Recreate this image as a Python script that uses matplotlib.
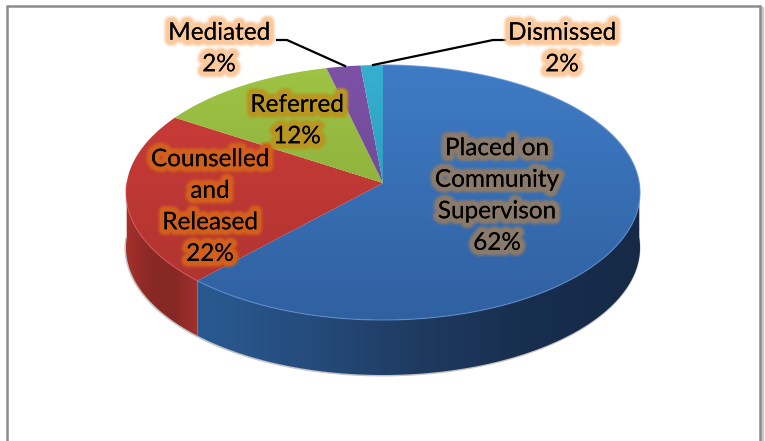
import numpy as np
import matplotlib
matplotlib.use('Agg')
import matplotlib.pyplot as plt
import matplotlib.patheffects as pe
from matplotlib.patches import Polygon, Rectangle
from matplotlib.colors import LinearSegmentedColormap

# Slice data, clockwise from 12 o'clock
categories = ['Placed on\nCommunity\nSupervison', 'Counselled\nand\nReleased', 'Referred', 'Mediated', 'Dismissed']
values = [62, 22, 12.2, 2.3, 1.5]
pct_labels = ['62%', '22%', '12%', '2%', '2%']

top_light = ['#3f7cc6', '#cf3d39', '#9fc544', '#7d52a8', '#35b0d2']
top_dark = ['#2f5f9f', '#ab322f', '#7f9e38', '#624185', '#2a8ba8']
glows = ['#8a7a6c', '#d2601c', '#b8961f', '#fcc99c', '#fcc99c']

# Ellipse layout in pixels
cx, cy = 383, 183
rx, ry = 256.3, 126.8
k = -0.0745
depth = 55


def project(theta):
    # tilted circle -> screen, apex sits above the middle of the ellipse
    x = np.sin(theta)
    y = -np.cos(theta)
    w = 1 + k * y
    return cx + rx * x / w, cy + ry * y / w


def clipped_gradient(ax, poly, colors, extent, horizontal=False):
    cmap = LinearSegmentedColormap.from_list('g', colors)
    grad = np.linspace(0, 1, 256)
    grad = grad.reshape(1, -1) if horizontal else grad.reshape(-1, 1)
    im = ax.imshow(grad, cmap=cmap, extent=extent, aspect='auto', zorder=3, interpolation='bilinear')
    patch = Polygon(poly, closed=True, transform=ax.transData, facecolor='none', edgecolor='none')
    ax.add_patch(patch)
    im.set_clip_path(patch)


fig = plt.figure(figsize=(7.65, 4.41), dpi=100)
ax = fig.add_axes([0, 0, 1, 1])
ax.set_xlim(0, 765)
ax.set_ylim(441, 0)
ax.axis('off')

# Chart frame, its bottom edge is cut off by the picture
ax.add_patch(Rectangle((9.5, 7.5), 752.5, 500, facecolor='none', edgecolor='#c8c8c8', linewidth=2.4, zorder=1))
ax.add_patch(Rectangle((7.5, 5.5), 752.5, 500, facecolor='white', edgecolor='#8c8c8c', linewidth=1.8, zorder=1))

fractions = np.cumsum([0] + values) / sum(values)
angles = fractions * 2 * np.pi

# Soft shadow under the rim
t = np.linspace(np.pi / 2, 3 * np.pi / 2, 200)
sx, sy = project(t)
ax.plot(sx - 0.5, sy + depth + 0.5, color='#c4c4c4', lw=1.4, zorder=2)

# Rim of the pie: only the front half shows
side_stops = {0: ['#162a47', '#182e4e', '#1f3a60', '#254c7c', '#2a5a92'],
              1: ['#a6302c', '#8a2926', '#862825', '#a0302c']}
for i in side_stops:
    a0 = max(angles[i], np.pi / 2)
    a1 = min(angles[i + 1], 3 * np.pi / 2)
    t = np.linspace(a0, a1, 150)
    xs, ys = project(t)
    poly = np.vstack([np.c_[xs, ys], np.c_[xs[::-1], ys[::-1] + depth]])
    if i == 0:
        clipped_gradient(ax, poly, side_stops[i], [xs.max(), xs.min(), 441, 0], horizontal=True)
    else:
        clipped_gradient(ax, poly, side_stops[i], [xs.min(), xs.max(), 441, 0], horizontal=True)

# Top face
for i in range(len(values)):
    t = np.linspace(angles[i], angles[i + 1], 200)
    xs, ys = project(t)
    poly = np.vstack([[cx, cy], np.c_[xs, ys]])
    clipped_gradient(ax, poly, [top_light[i], top_dark[i]], [100, 660, 330, 60])

# Light edge where top meets rim, front left only
t = np.linspace(angles[0] * 0.72, angles[1], 200)
xs, ys = project(t)
ax.plot(xs, ys, color='#5f8fd0', lw=0.9, alpha=0.7, zorder=4)
t = np.linspace(angles[1], 3 * np.pi / 2, 100)
xs, ys = project(t)
ax.plot(xs, ys, color='#d65a55', lw=0.9, alpha=0.6, zorder=4)

# Leader lines
ax.plot([277, 287, 345], [40, 40, 66], color='black', lw=1.6, zorder=5, solid_joinstyle='miter')
ax.plot([373, 493, 505], [65, 40, 40], color='black', lw=1.6, zorder=5, solid_joinstyle='miter')

# Labels, centred in pixels
label_pos = [(497, 196), (210, 207), (297, 121), (219, 49), (562, 49)]
for i, (x, y) in enumerate(label_pos):
    txt = categories[i] + '\n' + pct_labels[i]
    ax.text(x, y, txt, ha='center', va='center', family='Lato', fontsize=17.5, color='black',
            linespacing=1.62, zorder=6,
            path_effects=[pe.withStroke(linewidth=10.5, foreground=glows[i], alpha=0.25),
                          pe.withStroke(linewidth=8.5, foreground=glows[i], alpha=0.5),
                          pe.withStroke(linewidth=6.5, foreground=glows[i], alpha=1.0),
                          pe.Normal()])

fig.savefig('out.png', dpi=100)
